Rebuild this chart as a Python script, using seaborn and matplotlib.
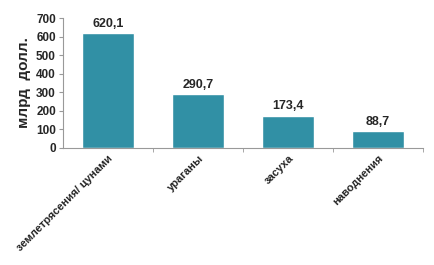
import numpy as np
import pandas as pd
import seaborn as sns
import matplotlib.pyplot as plt

categories = ["землетрясения/ цунами", "ураганы", "засуха", "наводнения"]
values = [620.1, 290.7, 173.4, 88.7]
value_labels = ["620,1", "290,7", "173,4", "88,7"]

sns.set_style("white")
plt.rcParams['font.family'] = ['Liberation Sans', 'DejaVu Sans']

df = pd.DataFrame({"cat": categories, "val": values})

fig = plt.figure(figsize=(4.34, 2.65), dpi=100)
ax = fig.add_axes([0.145, 0.442, 0.83, 0.49])

sns.barplot(data=df, x="cat", y="val", color="#3190A5", saturation=1,
            width=0.57, ax=ax)

ax.set_xlim(-0.5, len(categories) - 0.5)
ax.set_ylim(0, 700)
ax.set_yticks(np.arange(0, 701, 100))
ax.set_xlabel("")
ax.set_ylabel("млрд  долл.", fontsize=11, fontweight="bold", labelpad=4)

# value labels above bars
for i, (v, lab) in enumerate(zip(values, value_labels)):
    ax.text(i, v + 18, lab, ha="center", va="bottom", fontsize=9, fontweight="bold")

ax.set_xticks(range(len(categories)))
ax.set_xticklabels(categories, rotation=45, ha="right", rotation_mode="anchor",
                   fontsize=8, fontweight="bold")
ax.tick_params(axis="x", which="major", length=0, pad=4)
ax.set_xticks(np.arange(0.5, len(categories), 1), minor=True)
ax.tick_params(axis="x", which="minor", length=3, color="#999999", direction="out", bottom=True)
ax.tick_params(axis="y", length=3, color="#999999", direction="out", left=True, pad=2)
for t in ax.get_yticklabels():
    t.set_fontweight("bold")
    t.set_fontsize(8.5)

for s in ["top", "right"]:
    ax.spines[s].set_visible(False)
for s in ["left", "bottom"]:
    ax.spines[s].set_color("#999999")
    ax.spines[s].set_linewidth(0.8)

fig.savefig("out.png", dpi=100)
